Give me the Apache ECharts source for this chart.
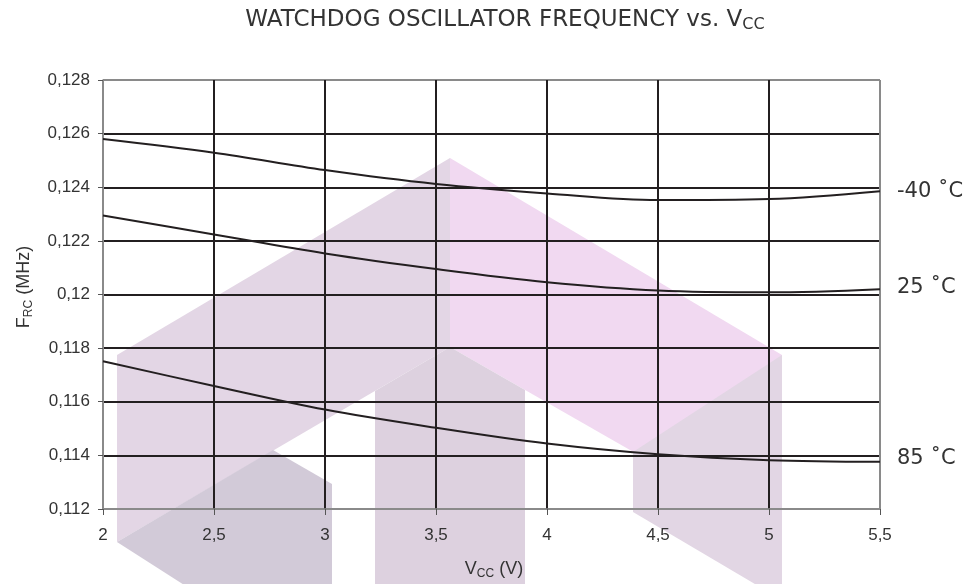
<!DOCTYPE html>
<html>
<head>
<meta charset="utf-8">
<script src="https://cdn.jsdelivr.net/npm/echarts@6/dist/echarts.min.js"></script>
<style>html,body{margin:0;padding:0;background:#fff}#c{width:969px;height:584px}</style>
</head>
<body>
<div id="c"></div>
<script>
// ---- data ----
var vcc = [2, 2.5, 3, 3.5, 4, 4.5, 5, 5.5];
var fM40 = [0.1258, 0.12529, 0.12464, 0.12412, 0.12377, 0.12352, 0.12356, 0.12385];
var f25  = [0.12295, 0.12224, 0.12153, 0.12095, 0.12046, 0.12015, 0.12008, 0.1202];
var f85  = [0.11751, 0.11659, 0.11571, 0.11503, 0.11444, 0.11404, 0.11382, 0.11376];
var seriesNames = ['-40 \u02DAC', '25 \u02DAC', '85 \u02DAC'];
var titleMain = 'WATCHDOG OSCILLATOR FREQUENCY vs. V';
var titleSub = 'CC';

function pairs(xs, ys) { return xs.map(function (x, i) { return [x, ys[i]]; }); }
function comma(v) { return String(+(+v).toFixed(4)).replace('.', ','); }

var GRID = '#231f20', FRAME = '#8a8a8a', TXT = '#333333';
var chart = echarts.init(document.getElementById('c'), null, {renderer: 'canvas'});

var labelOffsets = [[9, 0], [9, -2], [9, -3]];
var series = [fM40, f25, f85].map(function (d, i) {
  return {
    name: seriesNames[i], type: 'line', smooth: 0.35, symbol: 'none',
    data: pairs(vcc, d), z: 5,
    lineStyle: {color: GRID, width: 2},
    endLabel: {show: true, formatter: seriesNames[i], offset: labelOffsets[i],
      color: TXT, fontSize: 21, fontFamily: 'DejaVu Sans'}
  };
});

function poly(points, color) {
  return {type: 'polygon', z: -10, silent: true, shape: {points: points}, style: {fill: color}};
}

chart.setOption({
  animation: false,
  backgroundColor: '#ffffff',
  grid: {left: 103, right: 89, top: 80, bottom: 75, containLabel: false},
  graphic: [
    poly([[117,355],[450,158],[450,347],[117,542]], '#e3d6e5'),
    poly([[450,158],[782,355],[782,537],[450,347]], '#f1d9f1'),
    poly([[375,391],[450,347],[525,390],[525,590],[375,590]], '#ddd1df'),
    poly([[117,542],[273,450],[332,484],[332,590],[192,590]], '#d2cad8'),
    poly([[633,452],[782,355],[782,600],[633,512]], '#e2d6e4'),
    {type: 'text', z: 10, x: 505, y: 20, style: {
      text: '{a|' + titleMain + '}{s|' + titleSub + '}', align: 'center', verticalAlign: 'middle',
      rich: {a: {fontSize: 23, lineHeight: 26, fontFamily: 'DejaVu Sans', fill: TXT},
             s: {fontSize: 16, lineHeight: 6, verticalAlign: 'bottom', fontFamily: 'DejaVu Sans', fill: TXT}}}},
    {type: 'text', z: 10, x: 24, y: 287, rotation: Math.PI / 2, style: {
      text: '{a|F}{s|RC}{a| (MHz)}', align: 'center', verticalAlign: 'middle',
      rich: {a: {fontSize: 18, lineHeight: 22, fontFamily: 'Liberation Sans', fill: TXT},
             s: {fontSize: 12, lineHeight: 14, verticalAlign: 'bottom', fontFamily: 'Liberation Sans', fill: TXT}}}},
    {type: 'text', z: 10, x: 494, y: 569, style: {
      text: '{a|V}{s|CC}{a| (V)}', align: 'center', verticalAlign: 'middle',
      rich: {a: {fontSize: 18, lineHeight: 22, fontFamily: 'Liberation Sans', fill: TXT},
             s: {fontSize: 12, lineHeight: 14, verticalAlign: 'bottom', fontFamily: 'Liberation Sans', fill: TXT}}}}
  ],
  xAxis: {
    type: 'value', min: 2, max: 5.5, interval: 0.5,
    axisLine: {show: true, lineStyle: {color: FRAME, width: 1.5}},
    axisTick: {show: true, length: 6, lineStyle: {color: '#555', width: 1}},
    axisLabel: {formatter: comma, color: TXT, fontSize: 17, fontFamily: 'Liberation Sans', margin: 18},
    splitLine: {show: true, lineStyle: {color: [FRAME, GRID, GRID, GRID, GRID, GRID, GRID, FRAME], width: 2}}
  },
  yAxis: {
    type: 'value', min: 0.112, max: 0.128, interval: 0.002,
    axisLine: {show: true, lineStyle: {color: FRAME, width: 1.5}},
    axisTick: {show: true, length: 5, lineStyle: {color: '#555', width: 1}},
    axisLabel: {formatter: comma, color: TXT, fontSize: 17, fontFamily: 'Liberation Sans', margin: 13},
    splitLine: {show: true, lineStyle: {color: [FRAME, GRID, GRID, GRID, GRID, GRID, GRID, GRID, FRAME], width: 2}}
  },
  series: series
});
</script>
</body>
</html>
